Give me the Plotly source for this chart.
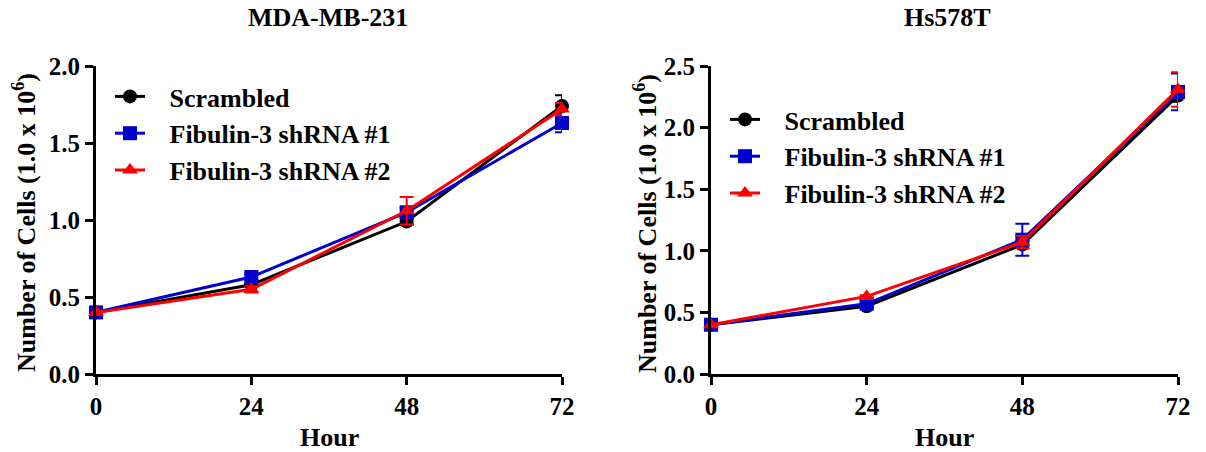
import plotly.graph_objects as go

hours = [0, 24, 48, 72]
series_names = ["Scrambled", "Fibulin-3 shRNA #1", "Fibulin-3 shRNA #2"]
colors = ["#000000", "#0000CC", "#FF0000"]
symbols = ["circle", "square", "triangle-up"]

# MDA-MB-231
mda_scr = [0.40, 0.58, 0.99, 1.74]
mda_scr_err = [0.01, 0.01, 0.02, 0.07]
mda_sh1 = [0.40, 0.63, 1.05, 1.63]
mda_sh1_err = [0.01, 0.02, 0.03, 0.06]
mda_sh2 = [0.40, 0.55, 1.06, 1.72]
mda_sh2_err = [0.01, 0.02, 0.09, 0.04]

# Hs578T
hs_scr = [0.40, 0.55, 1.05, 2.26]
hs_scr_err = [0.01, 0.01, 0.03, 0.05]
hs_sh1 = [0.40, 0.57, 1.09, 2.29]
hs_sh1_err = [0.01, 0.01, 0.13, 0.15]
hs_sh2 = [0.40, 0.63, 1.07, 2.31]
hs_sh2_err = [0.01, 0.01, 0.05, 0.14]

W, H = 1206, 452
font_family = "Liberation Serif, Times New Roman, serif"
NB = "\u00a0\u00a0\u00a0"

fig = go.Figure()

panels = [
    ("x", "y", [mda_scr, mda_sh1, mda_sh2], [mda_scr_err, mda_sh1_err, mda_sh2_err], "legend"),
    ("x2", "y2", [hs_scr, hs_sh1, hs_sh2], [hs_scr_err, hs_sh1_err, hs_sh2_err], "legend2"),
]
for xa, ya, vals, errs, lg in panels:
    for i in range(3):
        fig.add_trace(go.Scatter(
            x=hours, y=vals[i], xaxis=xa, yaxis=ya, name=NB + series_names[i],
            mode="lines+markers", legend=lg, legendgroup=lg + str(i), cliponaxis=False,
            line=dict(color=colors[i], width=3),
            marker=dict(color=colors[i], symbol=symbols[i], size=14),
            error_y=dict(type="data", array=errs[i], color=colors[i], thickness=2, width=7),
        ))

def px_x(p):
    return p / W

def px_y(p):
    return 1 - p / H

ydom = [px_y(374), px_y(66)]
tick_font = dict(family=font_family, size=25, color="black", weight="bold")
axis_common = dict(showline=True, linecolor="black", linewidth=3, ticks="outside",
                   ticklen=8, tickwidth=3, tickcolor="black", showgrid=False, zeroline=False,
                   automargin=False, tickfont=tick_font)

legend_font = dict(family=font_family, size=26, color="black", weight="bold")
title_font = dict(family=font_family, size=26, color="black", weight="bold")
ytitle = "Number of Cells (1.0 x 10<sup>6</sup>)"

fig.update_layout(
    width=W, height=H, margin=dict(l=0, r=0, t=0, b=0, autoexpand=False),
    paper_bgcolor="white", plot_bgcolor="white",
    xaxis=dict(domain=[px_x(96), px_x(562)], range=[0, 72], tickvals=hours, anchor="y", **axis_common),
    yaxis=dict(domain=ydom, range=[0, 2.0], tickvals=[0, 0.5, 1.0, 1.5, 2.0], tickformat=".1f",
               anchor="x", **axis_common),
    xaxis2=dict(domain=[px_x(711), px_x(1178)], range=[0, 72], tickvals=hours, anchor="y2", **axis_common),
    yaxis2=dict(domain=ydom, range=[0, 2.5], tickvals=[0, 0.5, 1.0, 1.5, 2.0, 2.5], tickformat=".1f",
                anchor="x2", **axis_common),
    legend=dict(x=px_x(110), y=px_y(73), xanchor="left", yanchor="top", bgcolor="rgba(0,0,0,0)",
                font=legend_font, tracegroupgap=0),
    legend2=dict(x=px_x(725), y=px_y(96), xanchor="left", yanchor="top", bgcolor="rgba(0,0,0,0)",
                 font=legend_font, tracegroupgap=0),
    annotations=[
        dict(text="MDA-MB-231", x=px_x(328), y=px_y(17), xref="paper", yref="paper", showarrow=False,
             xanchor="center", yanchor="middle", font=title_font),
        dict(text="Hs578T", x=px_x(947), y=px_y(17), xref="paper", yref="paper", showarrow=False,
             xanchor="center", yanchor="middle", font=title_font),
        dict(text="Hour", x=px_x(329), y=px_y(437), xref="paper", yref="paper", showarrow=False,
             xanchor="center", yanchor="middle", font=title_font),
        dict(text="Hour", x=px_x(944), y=px_y(437), xref="paper", yref="paper", showarrow=False,
             xanchor="center", yanchor="middle", font=title_font),
        dict(text=ytitle, x=px_x(24), y=px_y(223), xref="paper", yref="paper", showarrow=False,
             textangle=-90, xanchor="center", yanchor="middle", font=title_font),
        dict(text=ytitle, x=px_x(645), y=px_y(223), xref="paper", yref="paper", showarrow=False,
             textangle=-90, xanchor="center", yanchor="middle", font=title_font),
    ],
)

fig.write_html("out.html")
